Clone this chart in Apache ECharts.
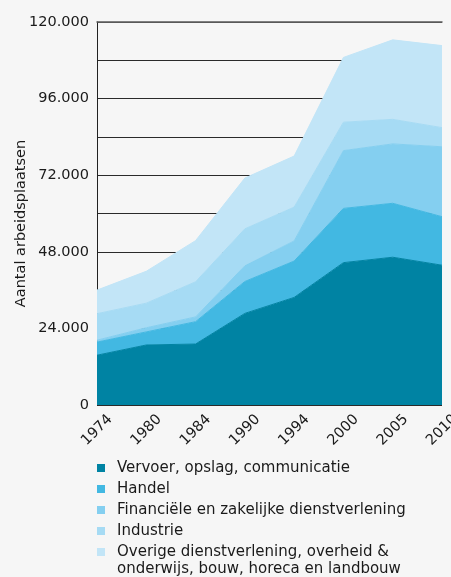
<!DOCTYPE html>
<html>
<head>
<meta charset="utf-8">
<script src="https://cdn.jsdelivr.net/npm/echarts@6/dist/echarts.min.js"></script>
<style>
  html, body { margin: 0; padding: 0; background: #f6f6f6; }
  #chart { width: 451px; height: 577px; }
</style>
</head>
<body>
<div id="chart"></div>
<script>
const years = ['1974', '1980', '1984', '1990', '1994', '2000', '2005', '2010']

// aantal arbeidsplaatsen per sector (gestapeld)
const vervoer = [15600, 18800, 19100, 28700, 33700, 44600, 46300, 43800]
const handel = [4100, 4100, 7000, 10000, 11400, 17000, 16900, 15200]
const financieel = [600, 1300, 1500, 4900, 6300, 18100, 18600, 21900]
const industrie = [8300, 7700, 11000, 11600, 10600, 8900, 7700, 6000]
const overige = [7400, 10000, 12900, 15900, 16000, 20300, 24900, 25700]

const names = [
  'Vervoer, opslag, communicatie',
  'Handel',
  'Financiële en zakelijke dienstverlening',
  'Industrie',
  'Overige dienstverlening, overheid &'
]
const overigeLine2 = 'onderwijs, bouw, horeca en landbouw'
const colors = ['#0083a3', '#42b8e2', '#84cff0', '#a6dbf4', '#c2e5f7']
const seriesData = [vervoer, handel, financieel, industrie, overige]

const font = 'DejaVu Sans'
const textColor = '#1a1a1a'

function dots(v) {
  return String(v).replace(/\B(?=(\d{3})+(?!\d))/g, '.')
}

// gridlijnen donker, bovenste lijn (120.000) grijs
const gridColors = ['#2a2a2a', '#2a2a2a', '#2a2a2a', '#2a2a2a', '#2a2a2a', '#2a2a2a',
  '#2a2a2a', '#2a2a2a', '#2a2a2a', '#2a2a2a', '#5a5a5a']

const chart = echarts.init(document.getElementById('chart'))
chart.setOption({
  backgroundColor: '#f6f6f6',
  animation: false,
  grid: { left: 97, right: 9, top: 22, bottom: 172, containLabel: false, outerBoundsMode: 'none' },
  xAxis: [
    {
      type: 'category',
      data: years,
      boundaryGap: false,
      z: 0,
      axisLine: { show: false },
      axisTick: { show: false },
      axisLabel: {
        rotate: 45,
        align: 'center',
        verticalAlign: 'middle',
        margin: 25,
        fontSize: 14.5,
        fontFamily: font,
        color: textColor
      }
    },
    {
      // bovenste lijn op 120.000
      type: 'category',
      data: years,
      position: 'top',
      boundaryGap: false,
      z: 0,
      axisLine: { show: true, lineStyle: { color: '#5a5a5a', width: 1.5 } },
      axisTick: { show: false },
      axisLabel: { show: false }
    }
  ],
  yAxis: {
    type: 'value',
    min: 0,
    max: 120000,
    interval: 12000,
    z: 0,
    name: 'Aantal arbeidsplaatsen',
    nameLocation: 'middle',
    nameGap: 68,
    nameMoveOverlap: false,
    nameTextStyle: {
      fontSize: 14.5,
      fontFamily: font,
      color: textColor,
      padding: [0, 20, 0, 0]
    },
    axisLine: { show: true, lineStyle: { color: '#222', width: 1 } },
    axisTick: { show: false },
    axisLabel: {
      margin: 8,
      fontSize: 14.5,
      fontFamily: font,
      color: textColor,
      formatter: v => (v % 24000 === 0 ? dots(v) : '')
    },
    splitLine: { show: true, lineStyle: { color: gridColors, width: 1 } }
  },
  legend: {
    orient: 'vertical',
    left: 97,
    top: 459,
    padding: 0,
    icon: 'rect',
    itemWidth: 8,
    itemHeight: 8,
    itemGap: 3,
    data: names,
    textStyle: {
      fontSize: 15,
      lineHeight: 18,
      fontFamily: font,
      color: textColor,
      padding: [0, 0, 0, 7]
    }
  },
  graphic: [
    {
      type: 'text',
      left: 117,
      top: 562,
      style: { text: overigeLine2, font: '15px ' + font, fill: textColor }
    }
  ],
  series: seriesData.map((d, i) => ({
    name: names[i],
    type: 'line',
    stack: 'totaal',
    z: 10,
    data: d,
    symbol: 'none',
    lineStyle: { width: 1, color: colors[i] },
    areaStyle: { color: colors[i], opacity: 1 },
    itemStyle: { color: colors[i] }
  }))
})
</script>
</body>
</html>
